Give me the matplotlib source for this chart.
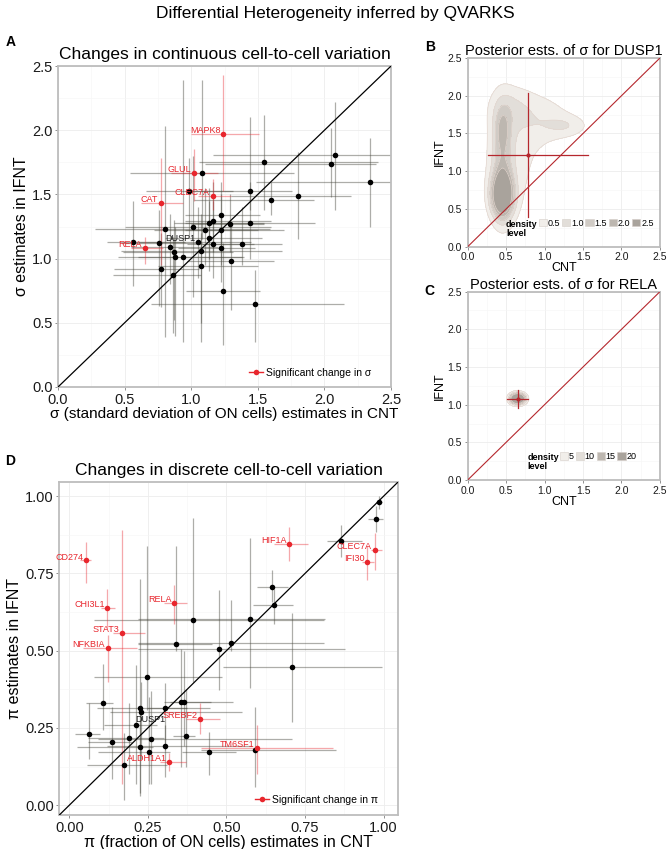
import numpy as np
import matplotlib.pyplot as plt
from matplotlib.lines import Line2D
from matplotlib.patches import Patch

plt.rcParams['font.family'] = ['Liberation Sans', 'DejaVu Sans']

# ---------------- panel A : sigma estimates, CNT vs IFNT ----------------
sigGene   = ['MAPK8', 'GLUL', 'CLEC7A', 'CAT', 'RELA',
             '', '', '', '', '', '', '', '', '', '', '', '',
             'DUSP1', '', '', '', '', '', '', '', '', '', '', '', '', '', '', '', '', '', '', '', '', '', '', '']
sigSignif = [True] * 5 + [False] * 36
sigCnt    = [1.24, 1.02, 1.16, 0.77, 0.65,
             0.56, 0.76, 0.80, 0.77, 0.84, 0.87, 0.88, 0.94, 0.86, 0.98, 1.08, 1.01,
             1.05, 1.10, 1.07, 1.07, 1.13, 1.13, 1.16, 1.16, 1.22, 1.22, 1.22, 1.29, 1.30, 1.24,
             1.38, 1.44, 1.44, 1.48, 1.55, 1.60, 1.80, 2.05, 2.08, 2.34]
sigIfn    = [1.97, 1.67, 1.49, 1.43, 1.08,
             1.13, 1.12, 1.23, 0.92, 1.09, 1.05, 1.01, 1.01, 0.87, 1.53, 1.67, 1.25,
             1.13, 1.22, 1.06, 0.94, 1.16, 1.28, 1.29, 1.11, 1.34, 1.22, 1.08, 1.27, 0.98, 0.75,
             1.11, 1.53, 1.28, 0.65, 1.75, 1.46, 1.49, 1.74, 1.81, 1.60]
sigCntLo  = [1.00, 0.85, 1.05, 0.62, 0.55,
             0.37, 0.48, 0.28, 0.42, 0.55, 0.49, 0.45, 0.60, 0.41, 0.66, 0.54, 0.50,
             0.60, 0.72, 0.47, 0.75, 0.80, 0.87, 0.95, 0.97, 0.95, 0.95, 0.90, 1.00, 0.97, 0.96,
             1.08, 0.95, 0.95, 0.70, 1.06, 1.02, 1.30, 1.10, 1.16, 1.49]
sigCntHi  = [1.51, 1.20, 1.30, 0.94, 0.79,
             0.95, 1.08, 1.59, 1.06, 1.20, 1.31, 1.38, 1.40, 1.07, 1.31, 1.77, 1.60,
             1.45, 1.50, 1.68, 1.50, 1.53, 1.55, 1.60, 1.47, 1.52, 1.70, 1.48, 1.55, 1.62, 1.52,
             1.68, 1.76, 1.93, 2.15, 2.40, 1.92, 2.20, 2.39, 2.50, 2.50]
sigIfnLo  = [1.53, 1.45, 1.38, 0.95, 0.96,
             0.79, 0.63, 0.39, 0.62, 0.80, 0.52, 0.40, 0.35, 0.42, 1.17, 1.15, 0.70,
             0.85, 0.95, 0.50, 0.35, 0.90, 1.00, 1.05, 0.85, 1.10, 0.95, 0.82, 1.05, 0.60, 0.33,
             0.95, 1.38, 1.00, 0.35, 1.38, 1.34, 1.15, 1.48, 1.38, 1.25]
sigIfnHi  = [2.43, 1.85, 1.62, 1.78, 1.17,
             1.45, 1.38, 2.03, 1.20, 1.35, 1.30, 1.25, 2.39, 1.17, 1.78, 2.39, 1.80,
             1.40, 1.55, 1.35, 1.20, 1.45, 1.55, 1.60, 1.45, 1.60, 1.50, 1.35, 1.50, 1.27, 1.12,
             1.40, 2.10, 1.60, 0.91, 2.12, 1.60, 1.83, 2.02, 2.22, 1.94]

# ---------------- panel D : pi estimates, CNT vs IFNT ----------------
piGene   = ['CD274', 'CHI3L1', 'STAT3', 'NFKBIA', 'RELA', 'HIF1A', 'CLEC7A', 'IFI30',
            'SREBF2', 'TM6SF1', 'ALDH1A1',
            '', '', '', '', '', '', '', '', '', '', '', '', '', '', '',
            'DUSP1', '', '', '', '', '', '', '', '', '', '', '', '', '', '']
piSignif = [True] * 11 + [False] * 30
piCnt    = [0.053, 0.121, 0.169, 0.122, 0.334, 0.700, 0.972, 0.948, 0.416, 0.598, 0.318,
            0.986, 0.975, 0.866, 0.644, 0.650, 0.576, 0.393, 0.514, 0.339, 0.476,
            0.709, 0.248, 0.106, 0.224, 0.304, 0.229, 0.354, 0.365, 0.211, 0.062,
            0.372, 0.189, 0.260, 0.135, 0.225, 0.303, 0.254, 0.446, 0.591, 0.174]
piIfn    = [0.792, 0.638, 0.556, 0.508, 0.654, 0.847, 0.827, 0.787, 0.279, 0.186, 0.141,
            0.982, 0.926, 0.855, 0.705, 0.649, 0.604, 0.598, 0.526, 0.523, 0.504,
            0.446, 0.415, 0.330, 0.315, 0.315, 0.300, 0.335, 0.335, 0.260, 0.229,
            0.225, 0.219, 0.215, 0.205, 0.188, 0.190, 0.172, 0.173, 0.178, 0.131]
piCntLo  = [0.035, 0.100, 0.140, 0.045, 0.300, 0.650, 0.960, 0.930, 0.370, 0.420, 0.290,
            0.975, 0.952, 0.820, 0.597, 0.586, 0.220, 0.080, 0.220, 0.220, 0.220,
            0.488, 0.078, 0.053, 0.087, 0.246, 0.130, 0.300, 0.320, 0.110, 0.018,
            0.330, 0.060, 0.090, 0.060, 0.023, 0.120, 0.090, 0.360, 0.420, 0.055]
piCntHi  = [0.070, 0.145, 0.240, 0.214, 0.375, 0.760, 0.995, 0.970, 0.480, 0.840, 0.370,
            0.995, 0.998, 0.930, 0.697, 0.713, 0.814, 0.810, 0.810, 0.453, 0.878,
            0.995, 0.485, 0.140, 0.374, 0.448, 0.550, 0.520, 0.450, 0.280, 0.098,
            0.400, 0.300, 0.710, 0.200, 0.267, 0.580, 0.320, 0.530, 0.850, 0.310]
piIfnLo  = [0.720, 0.575, 0.070, 0.400, 0.588, 0.790, 0.760, 0.730, 0.230, 0.100, 0.110,
            0.960, 0.885, 0.804, 0.658, 0.588, 0.378, 0.400, 0.500, 0.500, 0.372,
            0.270, 0.307, 0.243, 0.038, 0.178, 0.150, 0.124, 0.190, 0.070, 0.150,
            0.124, 0.100, 0.070, 0.086, 0.030, 0.090, 0.070, 0.097, 0.060, 0.016]
piIfnHi  = [0.851, 0.700, 0.890, 0.550, 0.712, 0.900, 0.880, 0.840, 0.330, 0.260, 0.170,
            1.000, 0.968, 0.906, 0.760, 0.700, 0.866, 0.928, 0.663, 0.840, 0.695,
            0.622, 0.840, 0.458, 0.733, 0.394, 0.400, 0.507, 0.500, 0.453, 0.330,
            0.377, 0.330, 0.370, 0.318, 0.307, 0.260, 0.350, 0.237, 0.318, 0.232]

# ---------------- panels B / C : posterior density (gaussian blobs) ----------------
dusp1Blob = {'x':  [0.45, 0.45, 0.45, 0.60, 1.00, 1.30, 0.55],
             'y':  [0.68, 1.15, 1.55, 1.15, 1.70, 1.60, 1.85],
             'sx': [0.10, 0.10, 0.07, 0.30, 0.30, 0.20, 0.20],
             'sy': [0.20, 0.50, 0.18, 0.60, 0.25, 0.10, 0.20],
             'w':  [0.45, 0.40, 0.06, 0.70, 0.30, 0.08, 0.15]}
dusp1Levels = [0.5, 1.0, 1.5, 2.0, 2.5]
dusp1Cross = {'x': 0.78, 'y': 1.22, 'xLo': 0.27, 'xHi': 1.57, 'yLo': 0.40, 'yHi': 2.03}

relaBlob = {'x': [0.65], 'y': [1.08], 'sx': [0.07], 'sy': [0.052], 'w': [1.0]}
relaLevels = [5, 10, 15, 20]
relaCross = {'x': 0.65, 'y': 1.075, 'xLo': 0.51, 'xHi': 0.79, 'yLo': 0.95, 'yHi': 1.20}

RED = '#E8262D'
DARKRED = '#B5272D'
GRAYS = ['#F1EEEA', '#E2DED9', '#D0CBC5', '#BDB7B0', '#A9A39C']


def styleAxes(ax, lim, ticks, minor, fmt, tickSize):
    ax.set_xlim(lim)
    ax.set_ylim(lim)
    ax.set_xticks(ticks)
    ax.set_yticks(ticks)
    ax.set_xticks(minor, minor=True)
    ax.set_yticks(minor, minor=True)
    ax.set_xticklabels([fmt.format(t) for t in ticks])
    ax.set_yticklabels([fmt.format(t) for t in ticks])
    ax.grid(True, which='major', color='#EDEDED', lw=0.6)
    ax.grid(True, which='minor', color='#F6F6F6', lw=0.4)
    ax.set_axisbelow(True)
    ax.tick_params(which='minor', length=0)
    ax.tick_params(which='major', length=2.5, width=0.6, color='#808080',
                   labelsize=tickSize, labelcolor='#1a1a1a', pad=1.5)
    for s in ax.spines.values():
        s.set_color('#BDBDBD')
        s.set_linewidth(1.3)


def scatterPanel(ax, cnt, ifn, cLo, cHi, iLo, iHi, signif, genes, legendLabel, special={}):
    cnt = np.array(cnt); ifn = np.array(ifn)
    sig = np.array(signif)
    for mask, col, alpha in [(~sig, '#4a4a40', 0.45), (sig, RED, 0.4)]:
        xerr = [cnt[mask] - np.array(cLo)[mask], np.array(cHi)[mask] - cnt[mask]]
        yerr = [ifn[mask] - np.array(iLo)[mask], np.array(iHi)[mask] - ifn[mask]]
        ax.errorbar(cnt[mask], ifn[mask], xerr=xerr, yerr=yerr, fmt='none',
                    ecolor=col, alpha=alpha, elinewidth=0.9, capsize=0, zorder=2)
    lim = ax.get_xlim()
    ax.plot(lim, lim, color='black', lw=0.9, zorder=3)
    ax.plot(cnt[~sig], ifn[~sig], 'o', color='black', ms=4, mew=0, zorder=4)
    ax.plot(cnt[sig], ifn[sig], 'o', color=RED, ms=4, mew=0, zorder=4)
    for x, y, g, s in zip(cnt, ifn, genes, sig):
        if not g:
            continue
        off, ha = special.get(g, ((-2, 2.5), 'right'))
        ax.annotate(g, (x, y), xytext=off, textcoords='offset points',
                    ha=ha, va='center', fontsize=6.5,
                    color=RED if s else '#1a1a1a', zorder=5)
    handle = Line2D([0], [0], color=RED, lw=1, marker='o', ms=4, mew=0)
    ax.legend([handle], [legendLabel], loc='center right', bbox_to_anchor=(0.94, 0.045),
              frameon=False, fontsize=7.5, handlelength=1.3, handletextpad=0.3,
              borderpad=0, borderaxespad=0)


def densityPanel(ax, blob, levels, cross, title, textX, swatchX, fmt):
    xs = np.linspace(0, 2.5, 400)
    X, Y = np.meshgrid(xs, xs)
    Z = np.zeros_like(X)
    for mx, my, sx, sy, w in zip(blob['x'], blob['y'], blob['sx'], blob['sy'], blob['w']):
        Z += w * np.exp(-0.5 * (((X - mx) / sx) ** 2 + ((Y - my) / sy) ** 2)) / (2 * np.pi * sx * sy)
    cols = GRAYS[:len(levels)] if len(levels) == 5 else [GRAYS[0], GRAYS[1], GRAYS[3], GRAYS[4]]
    ax.contourf(X, Y, Z, levels=levels + [Z.max() + 1], colors=cols, zorder=1)
    ax.contour(X, Y, Z, levels=levels, colors='#E3D6CF', linewidths=0.5, zorder=1)
    ax.plot([0, 2.5], [0, 2.5], color=DARKRED, lw=0.8, zorder=3)
    ax.plot([cross['xLo'], cross['xHi']], [cross['y'], cross['y']], color=DARKRED, lw=0.9, zorder=3)
    ax.plot([cross['x'], cross['x']], [cross['yLo'], cross['yHi']], color=DARKRED, lw=0.9, zorder=3)
    ax.plot(cross['x'], cross['y'], 'o', color=DARKRED, ms=2, zorder=4)
    ax.set_title(title, fontsize=10.5, pad=1.5)
    ax.set_xlabel('CNT', fontsize=9, labelpad=0)
    ax.set_ylabel('IFNT', fontsize=9, labelpad=1)
    handles = [Patch(facecolor=c, edgecolor='#D5CEC8', lw=0.4) for c in cols]
    labels = [fmt.format(l) for l in levels]
    ax.text(textX, 0.095, 'density\nlevel', transform=ax.transAxes,
            fontsize=6.5, fontweight='bold', va='center', ha='left', linespacing=1.05)
    ax.legend(handles, labels, ncol=len(levels), loc='center left',
              bbox_to_anchor=(swatchX, 0.125), frameon=False,
              fontsize=6.5, handlelength=0.9, handleheight=0.9, handletextpad=0.1,
              columnspacing=0.2, borderpad=0, borderaxespad=0)


fig = plt.figure(figsize=(6.7, 8.49), dpi=100)
fig.suptitle('Differential Heterogeneity inferred by QVARKS', fontsize=12.5, y=0.993)

# A
axA = fig.add_axes([0.0866, 0.5442, 0.497, 0.378])
styleAxes(axA, (0, 2.5), [0, 0.5, 1.0, 1.5, 2.0, 2.5], [0.25, 0.75, 1.25, 1.75, 2.25], '{:.1f}', 10.5)
scatterPanel(axA, sigCnt, sigIfn, sigCntLo, sigCntHi, sigIfnLo, sigIfnHi, sigSignif, sigGene,
             'Significant change in σ')
axA.set_title('Changes in continuous cell-to-cell variation', fontsize=12.5, pad=5)
axA.set_xlabel('σ (standard deviation of ON cells) estimates in CNT', fontsize=11, labelpad=0)
axA.set_ylabel('σ estimates in IFNT', fontsize=11.5, labelpad=2)

# B
axB = fig.add_axes([0.698, 0.7094, 0.287, 0.2223])
styleAxes(axB, (0, 2.5), [0, 0.5, 1.0, 1.5, 2.0, 2.5], [0.25, 0.75, 1.25, 1.75, 2.25], '{:.1f}', 7.5)
densityPanel(axB, dusp1Blob, dusp1Levels, dusp1Cross, 'Posterior ests. of σ for DUSP1',
             0.2, 0.37, '{:.1f}')

# C
axC = fig.add_axes([0.698, 0.4346, 0.287, 0.2219])
styleAxes(axC, (0, 2.5), [0, 0.5, 1.0, 1.5, 2.0, 2.5], [0.25, 0.75, 1.25, 1.75, 2.25], '{:.1f}', 7.5)
densityPanel(axC, relaBlob, relaLevels, relaCross, 'Posterior ests. of σ for RELA',
             0.31, 0.48, '{:g}')

# D
axD = fig.add_axes([0.0885, 0.0400, 0.506, 0.3926])
styleAxes(axD, (-0.032, 1.047), [0, 0.25, 0.5, 0.75, 1.0], [0.125, 0.375, 0.625, 0.875], '{:.2f}', 10.5)
scatterPanel(axD, piCnt, piIfn, piCntLo, piCntHi, piIfnLo, piIfnHi, piSignif, piGene,
             'Significant change in π', special={'DUSP1': ((-4, -5), 'left')})
axD.set_title('Changes in discrete cell-to-cell variation', fontsize=12.5, pad=5)
axD.set_xlabel('π (fraction of ON cells) estimates in CNT', fontsize=11.5, labelpad=0)
axD.set_ylabel('π estimates in IFNT', fontsize=11.5, labelpad=2)

# panel letters
for txt, x, y in [('A', 0.008, 0.946), ('B', 0.634, 0.940), ('C', 0.634, 0.652), ('D', 0.008, 0.452)]:
    fig.text(x, y, txt, fontsize=10, fontweight='bold')

fig.savefig('out.png', dpi=100)
